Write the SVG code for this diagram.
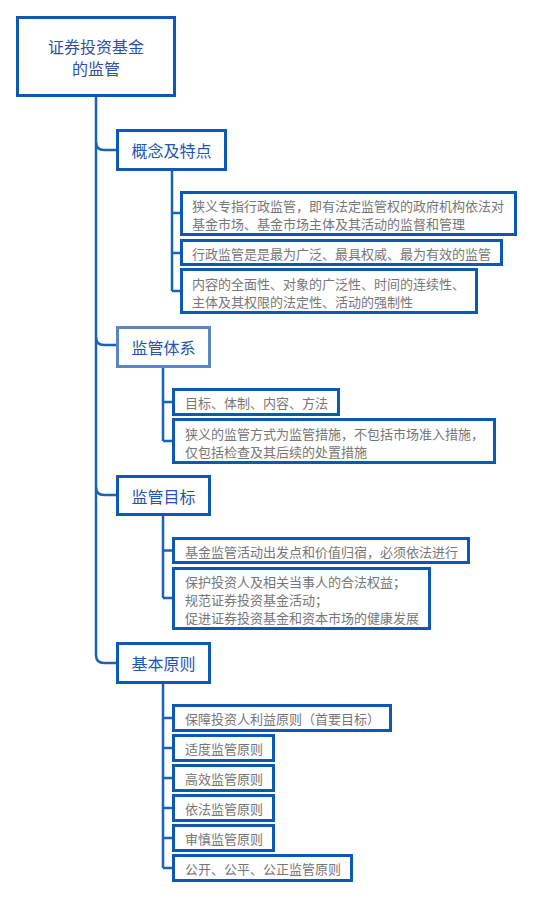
<svg xmlns="http://www.w3.org/2000/svg" width="533" height="898" viewBox="0 0 533 898">
<style>
.box{fill:#fff;stroke:#0b59b5;stroke-width:3}
.box.light{stroke:#5a87c4}
.ln{fill:none;stroke:#1a62b8;stroke-width:2.5}
.t0{font-family:"Noto Sans CJK SC","Noto Sans",sans-serif;font-size:16px;fill:#2c4fa8;text-anchor:middle;dominant-baseline:central}
.t1{font-family:"Noto Sans CJK SC","Noto Sans",sans-serif;font-size:16px;fill:#1d55b0;text-anchor:middle;dominant-baseline:central}
.t2{font-family:"Noto Sans CJK SC","Noto Sans",sans-serif;font-size:13px;fill:#767676;dominant-baseline:central}
</style>
<rect width="533" height="898" fill="#fff"/>
<g id="connectors">
<path class="ln" d="M96,96 L96,655 Q96,663 104,663 L117,663"/>
<path class="ln" d="M96,142 Q96,150 104,150 L117,150"/>
<path class="ln" d="M96,337 Q96,345 104,345 L117,345"/>
<path class="ln" d="M96,487 Q96,495 104,495 L117,495"/>
<path class="ln" d="M172,170 L172,291 M172,213 L181,213 M172,253 L181,253 M172,291 L181,291"/>
<path class="ln" d="M163,367 L163,441 M163,402 L173,402 M163,441 L173,441"/>
<path class="ln" d="M163,515 L163,598 M163,550.5 L173,550.5 M163,598 L173,598"/>
<path class="ln" d="M163,683 L163,868 M163,718 L173,718 M163,748 L173,748 M163,778 L173,778 M163,808 L173,808 M163,838 L173,838 M163,868 L173,868"/>
</g>
<g id="root">
<rect class="box" x="17.5" y="17.5" width="157" height="78"/>
<text class="t0" x="96" y="45.5">证券投资基金</text>
<text class="t0" x="96" y="68">的监管</text>
</g>
<g id="n1">
<rect class="box" x="117.5" y="130.5" width="108" height="39"/>
<text class="t1" x="171.5" y="150">概念及特点</text>
</g>
<g id="n1a">
<rect class="box" x="181.5" y="192.5" width="334" height="42"/>
<text class="t2" x="192" y="205.5">狭义专指行政监管，即有法定监管权的政府机构依法对</text>
<text class="t2" x="192" y="223.5">基金市场、基金市场主体及其活动的监督和管理</text>
</g>
<g id="n1b">
<rect class="box" x="181.5" y="240.5" width="320" height="24"/>
<text class="t2" x="192" y="253">行政监管是是最为广泛、最具权威、最为有效的监管</text>
</g>
<g id="n1c">
<rect class="box" x="181.5" y="269.5" width="295" height="43"/>
<text class="t2" x="192" y="283">内容的全面性、对象的广泛性、时间的连续性、</text>
<text class="t2" x="192" y="301">主体及其权限的法定性、活动的强制性</text>
</g>
<g id="n2">
<rect class="box light" x="117.5" y="327.5" width="92" height="39"/>
<text class="t1" x="163.5" y="347">监管体系</text>
</g>
<g id="n2a">
<rect class="box" x="173.5" y="389.5" width="165" height="25"/>
<text class="t2" x="185" y="402.5">目标、体制、内容、方法</text>
</g>
<g id="n2b">
<rect class="box" x="173.5" y="419.5" width="321" height="43"/>
<text class="t2" x="185" y="433">狭义的监管方式为监管措施，不包括市场准入措施，</text>
<text class="t2" x="185" y="451">仅包括检查及其后续的处置措施</text>
</g>
<g id="n3">
<rect class="box" x="117.5" y="476.5" width="92" height="38"/>
<text class="t1" x="163.5" y="496">监管目标</text>
</g>
<g id="n3a">
<rect class="box" x="173.5" y="538.5" width="295" height="24"/>
<text class="t2" x="185" y="551">基金监管活动出发点和价值归宿，必须依法进行</text>
</g>
<g id="n3b">
<rect class="box" x="173.5" y="568.5" width="256" height="60"/>
<text class="t2" x="185" y="581">保护投资人及相关当事人的合法权益；</text>
<text class="t2" x="185" y="599">规范证券投资基金活动；</text>
<text class="t2" x="185" y="617">促进证券投资基金和资本市场的健康发展</text>
</g>
<g id="n4">
<rect class="box" x="117.5" y="643.5" width="92" height="39"/>
<text class="t1" x="163.5" y="663">基本原则</text>
</g>
<g id="n4a">
<rect class="box" x="173.5" y="705.5" width="217" height="25"/>
<text class="t2" x="185" y="718">保障投资人利益原则（首要目标）</text>
</g>
<g id="n4b">
<rect class="box" x="173.5" y="735.5" width="100" height="25"/>
<text class="t2" x="185" y="748">适度监管原则</text>
</g>
<g id="n4c">
<rect class="box" x="173.5" y="765.5" width="100" height="25"/>
<text class="t2" x="185" y="778">高效监管原则</text>
</g>
<g id="n4d">
<rect class="box" x="173.5" y="795.5" width="100" height="25"/>
<text class="t2" x="185" y="808">依法监管原则</text>
</g>
<g id="n4e">
<rect class="box" x="173.5" y="825.5" width="100" height="25"/>
<text class="t2" x="185" y="838">审慎监管原则</text>
</g>
<g id="n4f">
<rect class="box" x="173.5" y="855.5" width="178" height="25"/>
<text class="t2" x="185" y="868">公开、公平、公正监管原则</text>
</g>
</svg>
